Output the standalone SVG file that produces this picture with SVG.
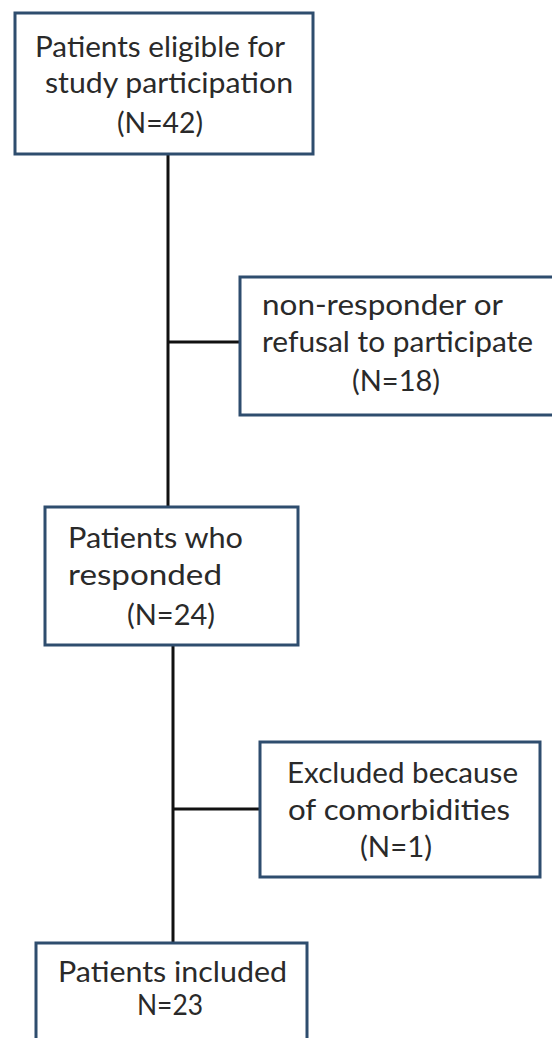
<svg xmlns="http://www.w3.org/2000/svg" width="552" height="1038" viewBox="0 0 552 1038">
<style>
.box{fill:#ffffff;stroke:#2e4d6e;stroke-width:3}
.t{font-family:Lato,"Liberation Sans",sans-serif;font-size:28px;fill:#2a2a2a}
.c{stroke:#111111;stroke-width:3;fill:none}
</style>
<rect width="552" height="1038" fill="#ffffff"/>
<g id="connectors">
<line class="c" x1="168" y1="154" x2="168" y2="507"/>
<line class="c" x1="168" y1="342" x2="240" y2="342"/>
<line class="c" x1="173" y1="645" x2="173" y2="943"/>
<line class="c" x1="173" y1="809" x2="260" y2="809"/>
</g>
<g id="n1">
<rect class="box" x="15" y="13" width="298" height="141"/>
<text class="t" x="35" y="57" textLength="250" lengthAdjust="spacingAndGlyphs">Patients eligible for</text>
<text class="t" x="45" y="93" textLength="248" lengthAdjust="spacingAndGlyphs">study participation</text>
<text class="t" x="117" y="133" textLength="86" lengthAdjust="spacingAndGlyphs">(N=42)</text>
</g>
<g id="n2">
<rect class="box" x="240" y="277" width="330" height="138"/>
<text class="t" x="262" y="315" textLength="241" lengthAdjust="spacingAndGlyphs">non-responder  or</text>
<text class="t" x="262" y="352" textLength="271" lengthAdjust="spacingAndGlyphs">refusal to participate</text>
<text class="t" x="352" y="391" textLength="88" lengthAdjust="spacingAndGlyphs">(N=18)</text>
</g>
<g id="n3">
<rect class="box" x="45" y="507" width="253" height="138"/>
<text class="t" x="68" y="548" textLength="175" lengthAdjust="spacingAndGlyphs">Patients who</text>
<text class="t" x="68" y="585" textLength="154" lengthAdjust="spacingAndGlyphs">responded</text>
<text class="t" x="127" y="625" textLength="88" lengthAdjust="spacingAndGlyphs">(N=24)</text>
</g>
<g id="n4">
<rect class="box" x="260" y="742" width="280" height="135"/>
<text class="t" x="287" y="783" textLength="231" lengthAdjust="spacingAndGlyphs">Excluded because</text>
<text class="t" x="288" y="820" textLength="222" lengthAdjust="spacingAndGlyphs">of comorbidities</text>
<text class="t" x="360" y="857" textLength="72" lengthAdjust="spacingAndGlyphs">(N=1)</text>
</g>
<g id="n5">
<rect class="box" x="36" y="943" width="271" height="120"/>
<text class="t" x="58" y="982" textLength="229" lengthAdjust="spacingAndGlyphs">Patients included</text>
<text class="t" x="137" y="1015" textLength="66" lengthAdjust="spacingAndGlyphs">N=23</text>
</g>
</svg>
